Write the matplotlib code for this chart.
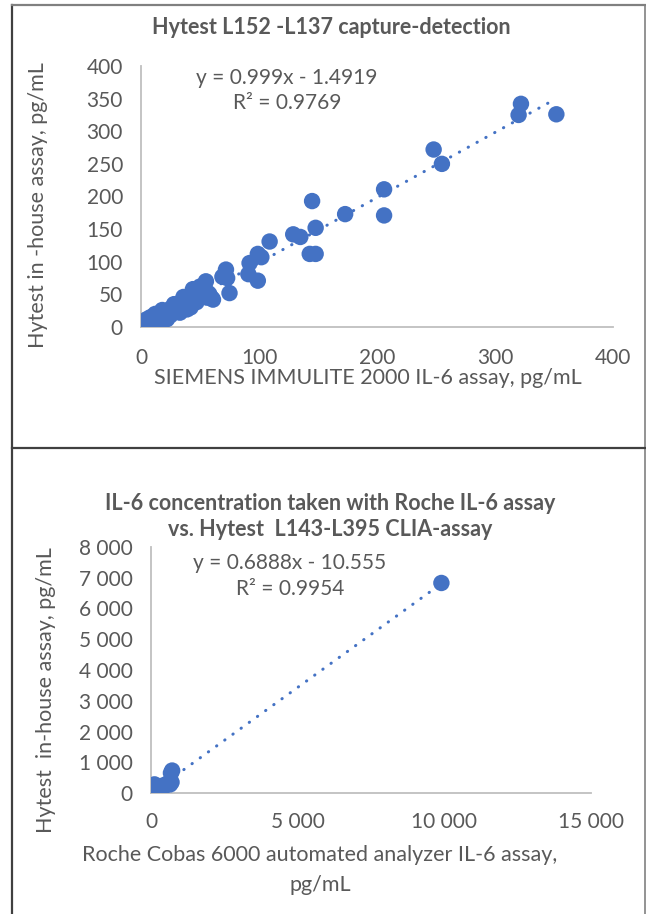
import numpy as np
import matplotlib
matplotlib.use("Agg")
import matplotlib.pyplot as plt
from matplotlib.lines import Line2D

# ---------------- data ----------------
# Panel 1: SIEMENS IMMULITE 2000 (x) vs Hytest in-house (y), pg/mL
siemens_x = [0.5, 1, 1.5, 2, 2.5, 3, 3, 4, 4, 5, 5, 6, 6, 7, 8, 8, 9, 10, 10, 11,
             12, 12, 13, 14, 15, 15, 16, 17, 18, 19, 20, 20, 21, 22, 23, 24, 25, 26,
             27, 28, 29, 30, 30, 31, 32, 33, 34, 35, 36, 37, 38, 39, 40, 40, 41, 42,
             43, 44, 45, 46, 47, 48, 50, 52, 53, 55, 56, 57, 60, 61,
             2, 5, 8, 12, 14, 18, 22, 25, 28, 33, 36, 42, 47, 50, 58,
             69, 72, 73, 75, 91, 92, 99, 99, 102, 109, 129, 135, 143, 145, 148, 148,
             173, 206, 206, 248, 255, 320, 322, 352]
hytest_y = [1, 0, 3, 2, 1, 4, 0, 5, 2, 3, 6, 4, 8, 5, 7, 10, 6, 9, 12, 8,
            14, 10, 11, 16, 12, 18, 14, 20, 15, 22, 17, 20, 24, 19, 25, 22, 28, 23,
            30, 26, 32, 25, 29, 34, 28, 36, 31, 40, 34, 42, 36, 27, 45, 38, 32, 48,
            40, 58, 44, 50, 46, 53, 55, 48, 58, 70, 45, 52, 44, 42,
            8, 12, 15, 20, 6, 26, 12, 18, 35, 22, 46, 30, 38, 62, 50,
            77, 88, 75, 52, 81, 98, 112, 71, 107, 131, 142, 138, 112, 193, 112, 152,
            173, 211, 171, 272, 250, 325, 342, 326]
fit1_slope, fit1_intercept = 0.999, -1.4919

# Panel 2: Roche Cobas 6000 (x) vs Hytest L143-L395 (y), pg/mL
roche_x = [5, 20, 40, 60, 80, 100, 120, 150, 180, 200, 250, 300, 350, 400, 450,
           500, 550, 600, 650, 700, 680, 720, 9900]
hytest2_y = [10, 5, 30, 25, 60, 40, 280, 90, 110, 150, 130, 180, 200, 240, 220,
             260, 300, 320, 280, 350, 650, 730, 6830]
fit2_slope, fit2_intercept = 0.6888, -10.555

top_xticks = [0, 100, 200, 300, 400]
top_yticks = [0, 50, 100, 150, 200, 250, 300, 350, 400]
bot_xticks = [0, 5000, 10000, 15000]
bot_yticks = [0, 1000, 2000, 3000, 4000, 5000, 6000, 7000, 8000]

# ---------------- style ----------------
FONT = ["Lato", "DejaVu Sans"]
plt.rcParams["font.family"] = FONT
BLUE = "#4472C4"
GRAY = "#595959"
SPINE = "#BFBFBF"
TICK_FS = 15
LABEL_FS = 15.5
TITLE_FS = 15.5
EQ_FS = 15

W, H = 646, 914
fig = plt.figure(figsize=(W / 100, H / 100), dpi=100)


def fx(px):
    return px / W


def fy(py):
    return 1 - py / H


def space_fmt(v, pos=None):
    return f"{int(v):,}".replace(",", " ")


def style_axes(ax, xpad, ypad):
    for s in ["top", "right"]:
        ax.spines[s].set_visible(False)
    for s in ["left", "bottom"]:
        ax.spines[s].set_color(SPINE)
        ax.spines[s].set_linewidth(1.3)
    ax.tick_params(length=0, labelsize=TICK_FS, colors=GRAY)
    ax.tick_params(axis="x", pad=xpad)
    ax.tick_params(axis="y", pad=ypad)
    ax.set_facecolor("none")


# ---------------- panel 1 ----------------
ax1 = fig.add_axes([fx(141), fy(327), fx(613) - fx(141), fy(66) - fy(327)])
ax1.scatter(siemens_x, hytest_y, s=140, color=BLUE, edgecolors="none", zorder=3)
xs = np.array([min(siemens_x), max(siemens_x)])
ax1.plot(xs, fit1_slope * xs + fit1_intercept, color=BLUE, lw=2.2,
         linestyle=(0, (0.1, 3.2)), dash_capstyle="round", zorder=2)
ax1.set_xlim(0, 400)
ax1.set_ylim(0, 400)
ax1.set_xticks(top_xticks)
ax1.set_yticks(top_yticks)
style_axes(ax1, 15, 13)

fig.text(fx(331), fy(28), "Hytest L152 -L137 capture-detection", ha="center",
         va="center", fontsize=TITLE_FS, fontweight="bold", color=GRAY)
fig.text(fx(287), fy(78), "y = 0.999x - 1.4919", ha="center", va="center",
         fontsize=EQ_FS, color=GRAY)
fig.text(fx(287), fy(103), "R² = 0.9769", ha="center", va="center",
         fontsize=EQ_FS, color=GRAY)
fig.text(fx(368), fy(378), "SIEMENS IMMULITE 2000 IL-6 assay, pg/mL", ha="center",
         va="center", fontsize=LABEL_FS, color=GRAY)
fig.text(fx(38), fy(205), "Hytest in -house assay, pg/mL", ha="center",
         va="center", rotation=90, fontsize=LABEL_FS, color=GRAY)

# ---------------- panel 2 ----------------
ax2 = fig.add_axes([fx(151), fy(793), fx(591) - fx(151), fy(547) - fy(793)])
ax2.scatter(roche_x, hytest2_y, s=140, color=BLUE, edgecolors="none", zorder=3)
xs2 = np.array([min(roche_x), max(roche_x)])
ax2.plot(xs2, fit2_slope * xs2 + fit2_intercept, color=BLUE, lw=2.2,
         linestyle=(0, (0.1, 3.2)), dash_capstyle="round", zorder=2)
ax2.set_xlim(0, 15000)
ax2.set_ylim(0, 8000)
ax2.set_xticks(bot_xticks)
ax2.set_yticks(bot_yticks)
ax2.xaxis.set_major_formatter(plt.FuncFormatter(space_fmt))
ax2.yaxis.set_major_formatter(plt.FuncFormatter(space_fmt))
style_axes(ax2, 14, 13)

fig.text(fx(330), fy(504), "IL-6 concentration taken with Roche IL-6 assay",
         ha="center", va="center", fontsize=TITLE_FS, fontweight="bold", color=GRAY)
fig.text(fx(330), fy(529), "vs. Hytest  L143-L395 CLIA-assay",
         ha="center", va="center", fontsize=TITLE_FS, fontweight="bold", color=GRAY)
fig.text(fx(290), fy(563), "y = 0.6888x - 10.555", ha="center", va="center",
         fontsize=EQ_FS, color=GRAY)
fig.text(fx(290), fy(589), "R² = 0.9954", ha="center", va="center",
         fontsize=EQ_FS, color=GRAY)
fig.text(fx(320), fy(855), "Roche Cobas 6000 automated analyzer IL-6 assay,",
         ha="center", va="center", fontsize=LABEL_FS, color=GRAY)
fig.text(fx(320), fy(885), "pg/mL", ha="center", va="center",
         fontsize=LABEL_FS, color=GRAY)
fig.text(fx(46), fy(690), "Hytest  in-house assay, pg/mL", ha="center",
         va="center", rotation=90, fontsize=LABEL_FS, color=GRAY)

# ---------------- panel borders ----------------
border_kw = dict(color="#404040", lw=1.6, transform=fig.transFigure)
fig.add_artist(Line2D([fx(12), fx(12)], [fy(5), 0], **border_kw))
fig.add_artist(Line2D([fx(12), fx(645)], [fy(5), fy(5)], color="#808080", lw=1.6,
                      transform=fig.transFigure))
fig.add_artist(Line2D([fx(645), fx(645)], [fy(5), 0], color="#808080", lw=1.2,
                      transform=fig.transFigure))
fig.add_artist(Line2D([fx(12), fx(645)], [fy(448), fy(448)], **border_kw))

fig.savefig("out.png", dpi=100)
